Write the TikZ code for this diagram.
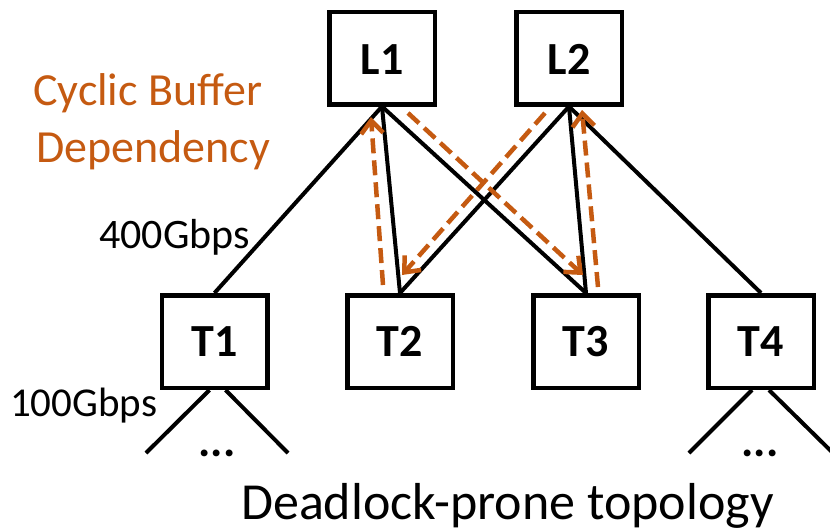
\documentclass[tikz,border=0pt]{standalone}
\usepackage{fontspec}
\setmainfont{Carlito}
\usetikzlibrary{arrows.meta,calc}
\definecolor{cbdorange}{RGB}{197,90,17}
\begin{document}
\begin{tikzpicture}[x=1pt,y=-1pt,
  switchbox/.style={draw,line width=4.5pt,minimum width=105.5pt,minimum height=92.5pt,
    inner sep=0pt,font=\fontsize{46}{46}\selectfont\bfseries,text depth=0pt},
  leaf/.style={switchbox,text height=33pt},
  tor/.style={switchbox,text height=30pt},
  link/.style={line width=4pt},
  flow/.style={cbdorange,line width=4.5pt,dash pattern=on 15pt off 7pt,
    -{Straight Barb[length=13pt,width=22pt]}},
  lbl/.style={anchor=base west,inner sep=0pt},
  dots/.style={anchor=base,inner sep=0pt,font=\fontsize{46}{46}\selectfont\bfseries}]
\useasboundingbox (0,0) rectangle (830,531);

% spine and leaf switches
\node[leaf] (L1) at (382,58) {L1};
\node[leaf] (L2) at (569,58) {L2};
\node[tor] (T1) at (214.5,341.5) {T1};
\node[tor] (T2) at (400,341.5) {T2};
\node[tor] (T3) at (586,341.5) {T3};
\node[tor] (T4) at (761,341.5) {T4};

% spine-to-ToR links
\draw[link] (L1.south) -- (T1.north);
\draw[link] (L1.south) -- (T2.north);
\draw[link] (L1.south) -- (T3.north);
\draw[link] (L2.south) -- (T2.north);
\draw[link] (L2.south) -- (T3.north);
\draw[link] (L2.south) -- (T4.north);

% host links below the ToRs
\coordinate (h1a) at (146,453);
\coordinate (h1b) at (288,453);
\coordinate (h4a) at (689,453);
\coordinate (h4b) at (833,453);
\draw[link] ($(T1.south)+(-5,0)$) -- (h1a);
\draw[link] ($(T1.south)+(11,0)$) -- (h1b);
\draw[link] ($(T4.south)+(-9,0)$) -- (h4a);
\draw[link] ($(T4.south)+(8,0)$) -- (h4b);
\node[dots] (d1) at (217,456) {...};
\node[dots] (d4) at (760,456) {...};

% cyclic buffer dependency
\coordinate (a1s) at (383,285);
\coordinate (a1e) at (371,117);
\coordinate (a2s) at (408,113);
\coordinate (a2e) at (583,275);
\coordinate (a3s) at (545,113);
\coordinate (a3e) at (402,275);
\coordinate (a4s) at (598,287);
\coordinate (a4e) at (582,110);
\draw[flow] (a1s) -- (a1e);
\draw[flow] (a2s) -- (a2e);
\draw[flow] (a3s) -- (a3e);
\draw[flow] (a4s) -- (a4e);

% labels
\node[lbl,text=cbdorange,font=\fontsize{46}{46}\selectfont] (cbd1) at (33,105) {Cyclic Buffer};
\node[lbl,text=cbdorange,font=\fontsize{46}{46}\selectfont] (cbd2) at (36,162) {Dependency};
\node[lbl,font=\fontsize{42}{42}\selectfont] (bw400) at (99,248) {400Gbps};
\node[lbl,font=\fontsize{41}{41}\selectfont] (bw100) at (10,416) {100Gbps};
\node[lbl,font=\fontsize{52}{52}\selectfont] (caption) at (241,519) {Deadlock-prone topology};
\end{tikzpicture}
\end{document}
